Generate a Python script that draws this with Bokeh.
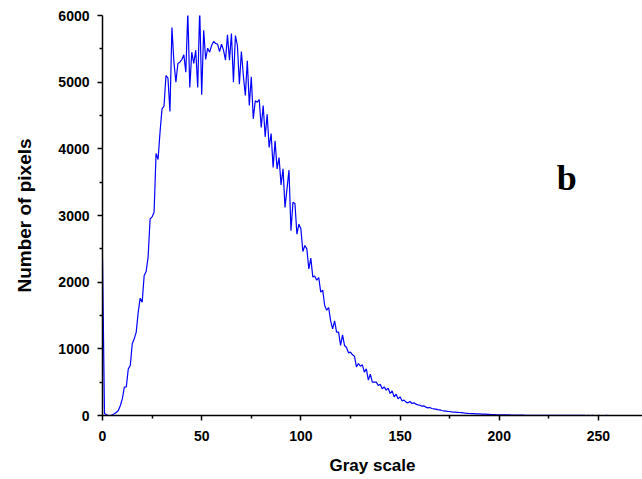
from bokeh.plotting import figure
from bokeh.models import FixedTicker, Range1d, Label
from bokeh.embed import file_html
from bokeh.resources import INLINE

# ---------------- data ----------------
gray_levels = list(range(256))
pixel_counts = [
    2350, 30, 10, 0, 0, 10, 25, 50, 75, 150,
    250, 425, 430, 700, 750, 1075, 1150, 1250, 1550, 1760,
    1700, 2100, 2160, 2380, 2950, 2980, 3050, 3930, 3840, 4250,
    4600, 4640, 5100, 5060, 4560, 5820, 5300, 5000, 5280, 5300,
    5340, 5410, 5150, 6050, 4920, 5450, 5280, 5480, 4920, 6100,
    4810, 5780, 5340, 5510, 5450, 5550, 5610, 5580, 5570, 5460,
    5570, 5480, 5330, 5710, 5330, 5730, 5000, 5700, 5550, 4970,
    5460, 5100, 4800, 5320, 4650, 5080, 4450, 4720, 4700, 4740,
    4320, 4650, 4180, 4520, 4020, 4230, 3720, 4120, 3700, 3870,
    3460, 3700, 3120, 3400, 3680, 2770, 3200, 3180, 2720, 2870,
    2800, 2460, 2550, 2500, 2200, 2360, 2080, 2090, 2030, 2070,
    1850, 1880, 1650, 1580, 1620, 1420, 1300, 1420, 1250, 1250,
    1050, 1210, 1050, 1020, 940, 950, 910, 890, 730, 780,
    740, 760, 650, 700, 530, 620, 500, 500, 500, 450,
    470, 400, 430, 380, 410, 330, 370, 280, 320, 250,
    280, 220, 230, 200, 190, 210, 180, 190, 170, 160,
    155, 140, 145, 125, 115, 120, 105, 100, 95, 88,
    85, 75, 68, 65, 62, 60, 55, 52, 50, 48,
    45, 42, 38, 35, 33, 30, 28, 27, 25, 24,
    23, 22, 22, 20, 18, 17, 15, 14, 12, 11,
    10, 10, 9, 9, 8, 8, 7, 7, 6, 6,
    5, 5, 5, 4, 4, 4, 4, 3, 3, 3,
    3, 3, 2, 2, 2, 2, 2, 2, 2, 2,
    1, 1, 1, 1, 1, 1, 1, 1, 1, 1,
    1, 1, 1, 1, 0, 1, 0, 1, 0, 0,
    1, 0, 0, 0, 1, 0,
]
x_ticks = [0, 50, 100, 150, 200, 250]
x_minor_ticks = [25, 75, 125, 175, 225]
y_ticks = [0, 1000, 2000, 3000, 4000, 5000, 6000]
y_minor_ticks = [500, 1500, 2500, 3500, 4500, 5500]
x_title = "Gray scale"
y_title = "Number of pixels"
panel_letter = "b"

# ---------------- figure ----------------
p = figure(width=642, height=479, output_backend="svg", toolbar_location=None,
           x_range=Range1d(0, 272.2), y_range=Range1d(0, 6000),
           min_border_left=102, min_border_right=0, min_border_top=15,
           min_border_bottom=64)
p.outline_line_color = None
p.xgrid.visible = False
p.ygrid.visible = False
p.background_fill_color = "white"
p.border_fill_color = "white"

p.line(gray_levels, pixel_counts, line_color="#0000FF", line_width=1.2)

p.xaxis.ticker = FixedTicker(ticks=x_ticks, minor_ticks=x_minor_ticks)
p.yaxis.ticker = FixedTicker(ticks=y_ticks, minor_ticks=y_minor_ticks)
p.xaxis.axis_label = x_title
p.yaxis.axis_label = y_title

for ax in (p.xaxis[0], p.yaxis[0]):
    ax.axis_line_color = "black"
    ax.axis_line_width = 1.5
    ax.major_tick_line_color = "black"
    ax.major_tick_line_width = 1.5
    ax.minor_tick_line_color = "black"
    ax.minor_tick_line_width = 1.5
    ax.major_tick_in = 0
    ax.major_tick_out = 5
    ax.minor_tick_in = 0
    ax.minor_tick_out = 3
    ax.major_label_text_font = "Liberation Sans"
    ax.major_label_text_font_style = "bold"
    ax.major_label_text_font_size = "14px"
    ax.major_label_text_color = "black"
    ax.major_label_standoff = 8
    ax.axis_label_text_font = "Liberation Sans"
    ax.axis_label_text_font_style = "bold"
    ax.axis_label_text_color = "black"

p.xaxis.major_label_standoff = 10
p.xaxis.axis_label_text_font_size = "17px"
p.xaxis.axis_label_standoff = 12
p.yaxis.axis_label_text_font_size = "19px"
p.yaxis.axis_label_standoff = 20

p.add_layout(Label(x=234, y=3570, text=panel_letter, text_font="Liberation Serif",
                   text_font_style="bold", text_font_size="36px",
                   text_align="center", text_baseline="alphabetic",
                   text_color="black"))

open("out.html", "w").write(file_html(p, INLINE))
